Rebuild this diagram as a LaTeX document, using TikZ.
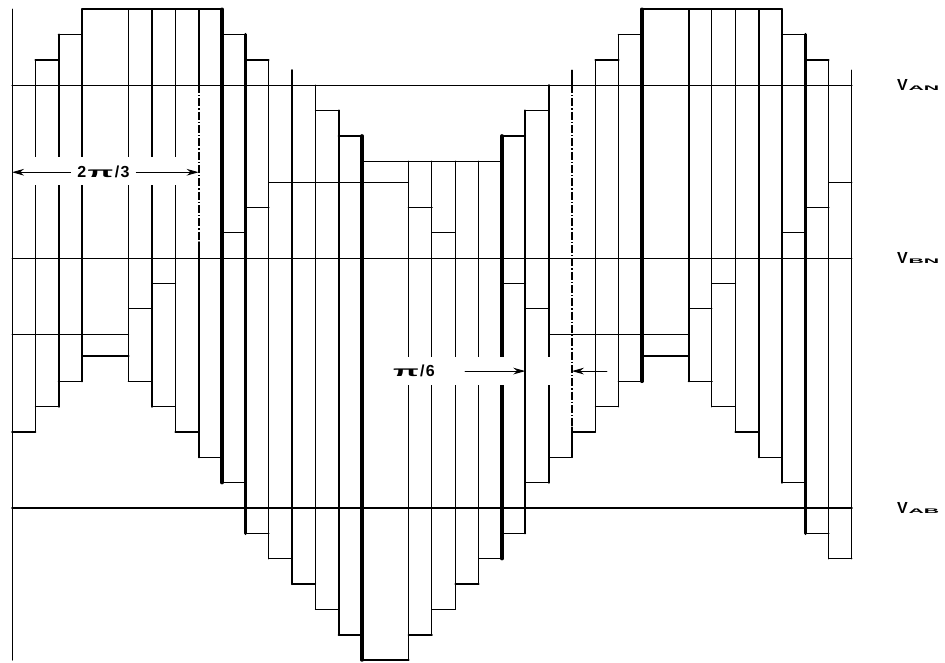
\documentclass[tikz,border=0pt]{standalone}
\usepackage{fontspec}
\usepackage{graphicx}
\newfontfamily\lblfont{Liberation Sans}
\usetikzlibrary{arrows.meta}
\newcommand{\widepi}{\scalebox{2.1}[0.9]{π}}
\newcommand{\vsub}[1]{V\kern0.5pt\scalebox{3.2}[1]{\fontsize{5}{5}\selectfont #1}}

\begin{document}
\begin{tikzpicture}[>={Stealth[length=9pt,width=5pt]},line join=round,line cap=round,x=17.5pt,y=19pt,
  thinl/.style={line width=0.7pt},thickl/.style={line width=1.4pt},
  dashdot/.style={line cap=butt,dash pattern=on 6pt off 1.5pt on 1pt off 1.5pt},
  band/.style={fill=white},
  lbl/.style={font=\lblfont\bfseries\fontsize{12}{12}\selectfont,inner sep=0pt}]
\def\ya{16.7}\def\yb{9.87}\def\yt{17.29}
\useasboundingbox (-0.514,-6.08) rectangle (39.99,20.06);
\draw[thinl] (0,\ya) -- (36,\ya);
\draw[thinl] (0,\yb) -- (36,\yb);
\draw[thickl] (0,0) -- (36,0);
\foreach \v [count=\k from 0] in {0,1,2,3,3,3,3,3,3,2,1,0,0,-1,-2,-3,-3,-3,-3,-3,-3,-2,-1,0,0,1,2,3,3,3,3,3,3,2,1,0}{
  \pgfmathsetmacro\lw{(\v>0 || \v==-2) ? 1.4 : 0.7}
  \draw[line width=\lw pt] (\k,{\ya+\v}) -- (\k+1,{\ya+\v});
}
\foreach \v [count=\k from 0] in {-3,-3,-3,-3,-3,-2,-1,0,0,1,2,3,3,3,3,3,3,2,1,0,0,-1,-2,-3,-3,-3,-3,-3,-3,-2,-1,0,0,1,2,3}{
  \pgfmathsetmacro\lw{(\v==2 || \v==-1) ? 1.4 : 0.7}
  \draw[line width=\lw pt] (\k,{\yb+\v}) -- (\k+1,{\yb+\v});
}
\foreach \v [count=\k from 0] in {3,4,5,6,6,5,4,3,2,1,-1,-2,-3,-4,-5,-6,-6,-5,-4,-3,-2,-1,1,2,3,4,5,6,6,5,4,3,2,1,-1,-2}{
  \pgfmathsetmacro\lw{(abs(\v)>4 || \v==3 || \v==-1 || \v==-3) ? 1.4 : 0.7}
  \draw[line width=\lw pt] (\k,\v) -- (\k+1,\v);
}
\foreach \i/\t/\b/\w in {1/1/3/0.7,2/2/4/1.4,3/3/5/1.4,5/3/5/0.7,6/3/4/1.4,7/3/3/0.7,9/3/1/2.4,10/2/-1/2.4,
  11/1/-2/0.7,13/0/-4/0.7,14/-1/-5/1.4,15/-2/-6/2.4,17/-3/-6/0.7,18/-3/-5/0.7,19/-3/-4/0.7,20/-3/-3/0.7,
  21/-2/-2/2.4,22/-1/-1/1.4,23/0/1/1.4,25/1/3/0.7,26/2/4/0.7,27/3/5/2.4,29/3/5/1.4,30/3/4/0.7,
  31/3/3/0.7,32/3/2/1.4,33/3/1/1.4,34/2/-1/2.4,35/1/-2/0.7}
  \draw[line width=\w pt] (\i,{\ya+\t}) -- (\i,\b);
\draw[thinl] (0,\ya+3) -- (0,-6);
\draw[thickl] (12,\yt) -- (12,-3);
\draw[thinl] (36,\yt) -- (36,-2);
\draw[thickl] (8,\ya+3) -- (8,\ya);
\draw[thickl,dashdot] (8,\ya) -- (8,10.5);
\draw[thickl] (8,10.5) -- (8,2);
\draw[line width=0.9pt] (24,\yt) -- (24,\ya);
\draw[line width=0.9pt,dashdot] (24,\ya) -- (24,3.2);
\draw[line width=0.9pt] (24,3.2) -- (24,2);
\fill[band] (0.3,12.75) rectangle (7.7,13.86);
\fill[band] (16.2,4.86) rectangle (21.56,5.96);
\fill[band] (22.55,4.86) rectangle (23.57,5.96);
\node[lbl,inner xsep=5pt] (twothirds) at (3.92,13.26) {2\kern1pt\widepi\kern1pt/\kern1pt3};
\coordinate (dimL) at (0,13.26);
\coordinate (dimR) at (8,13.26);
\draw[thinl,->] (twothirds) -- (dimL);
\draw[thinl,->] (twothirds) -- (dimR);
\node[lbl] (pisixth) at (17.23,5.41) {\widepi\kern1pt/\kern1pt6};
\coordinate (sixA) at (19.42,5.41);
\coordinate (sixB) at (22,5.41);
\coordinate (sixC) at (25.5,5.41);
\coordinate (sixD) at (24,5.41);
\draw[thinl,->] (sixA) -- (sixB);
\draw[thinl,->] (sixC) -- (sixD);
\node[lbl,anchor=west] (van) at (37.93,\ya) {\vsub{AN}};
\node[lbl,anchor=west] (vbn) at (37.93,\yb) {\vsub{BN}};
\node[lbl,anchor=west] (vab) at (37.93,0) {\vsub{AB}};
\end{tikzpicture}
\end{document}
